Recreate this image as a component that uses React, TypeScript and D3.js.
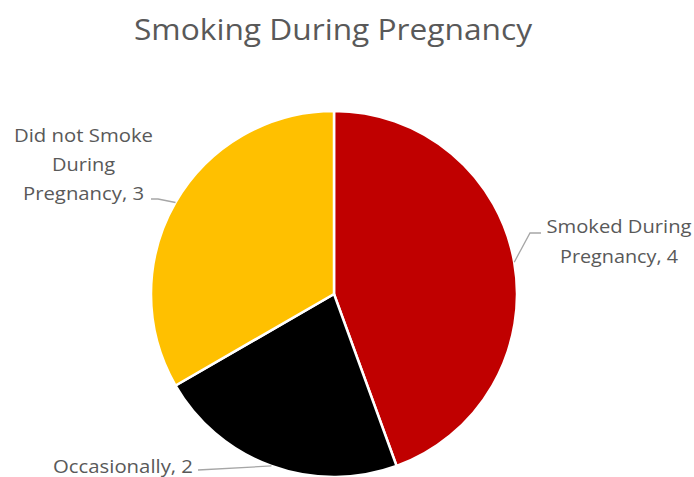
import React from "react";
import * as d3 from "d3";

const categories = ["Smoked During Pregnancy", "Occasionally", "Did not Smoke During Pregnancy"];
const values = [4, 2, 3];
const colors = ["#C00000", "#000000", "#FFC000"];
const labelLines = [
  ["Smoked During", "Pregnancy, 4"],
  ["Occasionally, 2"],
  ["Did not Smoke", "During", "Pregnancy, 3"],
];

const W = 694, H = 477;
const cx = 334, cy = 294, R = 183;

export default function App() {
  const pie = d3.pie<number>().sort(null).value((d) => d)(values);
  const arc = d3.arc<d3.PieArcDatum<number>>().innerRadius(0).outerRadius(R);
  const font = "'Open Sans', 'Liberation Sans', sans-serif";
  const textColor = "#595959";
  const lineColor = "#A6A6A6";

  const labelPos = [
    { x: 619, y: 233, lh: 30, widths: [145, 118] },
    { x: 123, y: 473, lh: 30, widths: [140] },
    { x: 83.5, y: 142, lh: 29, widths: [139, 63, 121] },
  ];
  const pt = (a: number, r: number) => [cx + r * Math.sin(a), cy - r * Math.cos(a)];
  const mid = pie.map((p) => (p.startAngle + p.endAngle) / 2);
  const e = mid.map((a) => pt(a, R));
  const leaders = [
    `M${e[0][0]},${e[0][1]} L530,233 L541,233`,
    `M198,470 L${e[1][0]},${e[1][1]}`,
    `M151,199 L158,199 L${e[2][0]},${e[2][1]}`,
  ];

  return (
    <svg width={W} height={H} style={{ position: "absolute", left: 0, top: 0 }}>
      <rect width={W} height={H} fill="#fff" />
      <text x={333} y={40} textAnchor="middle" fontFamily={font} fontSize={29} fill={textColor} textLength={398} lengthAdjust="spacingAndGlyphs">
        Smoking During Pregnancy
      </text>
      <g>
        {pie.map((p, i) => (
          <path key={categories[i]} d={arc(p) || ""} transform={`translate(${cx},${cy})`} fill={colors[i]} stroke="#fff" strokeWidth={2.5} />
        ))}
      </g>
      {leaders.map((d, i) => (
        <path key={i} d={d} fill="none" stroke={lineColor} strokeWidth={1.3} />
      ))}
      {labelLines.map((lines, i) =>
        lines.map((l, j) => (
          <text
            key={`${i}-${j}`}
            x={labelPos[i].x}
            y={labelPos[i].y + j * labelPos[i].lh}
            textAnchor="middle"
            fontFamily={font}
            fontSize={18.5}
            fill={textColor}
            textLength={labelPos[i].widths[j]}
            lengthAdjust="spacingAndGlyphs"
          >
            {l}
          </text>
        ))
      )}
    </svg>
  );
}
